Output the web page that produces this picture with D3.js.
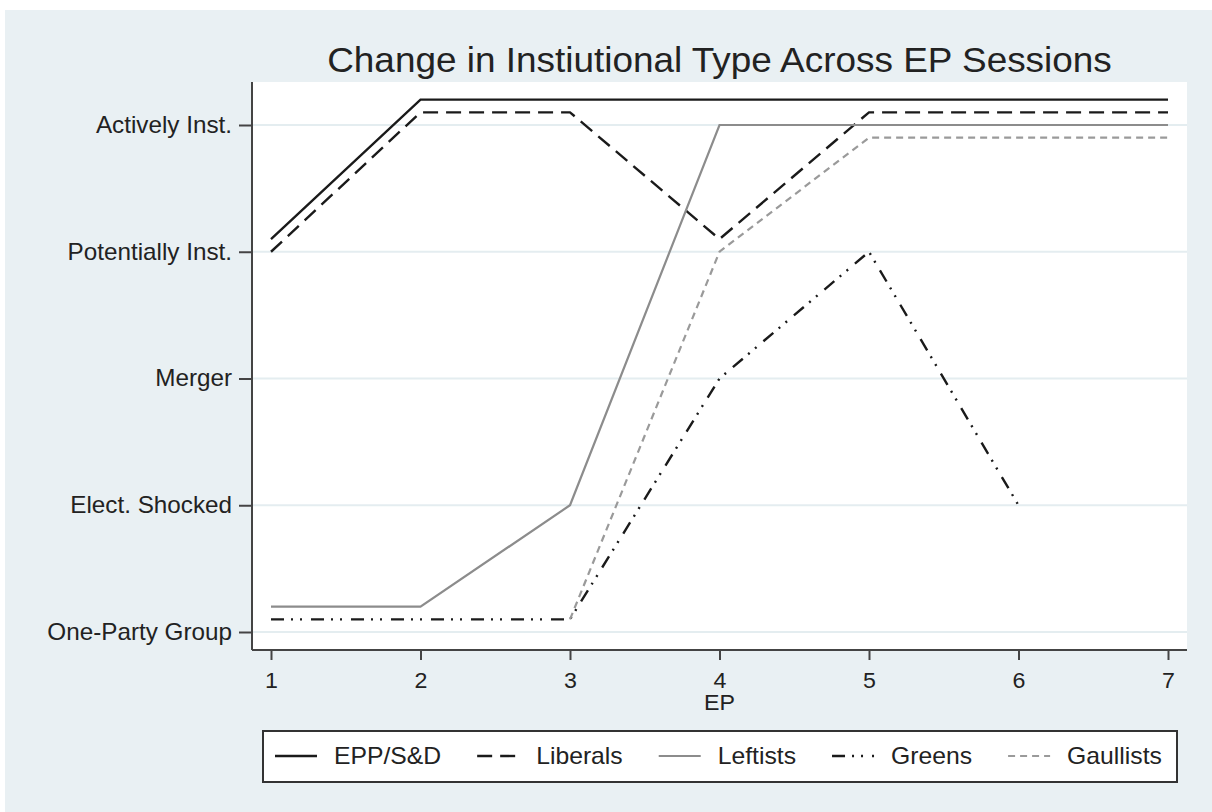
<!DOCTYPE html>
<html>
<head>
<meta charset="utf-8">
<script src="https://cdn.jsdelivr.net/npm/d3@7"></script>
<style>
body { margin: 0; background: #fff; }
text { font-family: "Liberation Sans", Arial, sans-serif; fill: #222; }
</style>
</head>
<body>
<div id="graph"></div>
<script>
// data (y: 1 = One-Party Group ... 5 = Actively Inst.)
const sessions = [1, 2, 3, 4, 5, 6, 7];
const typeLabels = ["One-Party Group", "Elect. Shocked", "Merger", "Potentially Inst.", "Actively Inst."];
const eppSD     = [4.1, 5.2, 5.2, 5.2, 5.2, 5.2, 5.2];
const liberals  = [4.0, 5.1, 5.1, 4.1, 5.1, 5.1, 5.1];
const leftists  = [1.2, 1.2, 2.0, 5.0, 5.0, 5.0, 5.0];
const greens    = [1.1, 1.1, 1.1, 3.0, 4.0, 2.0, null];
const gaullists = [null, null, 1.1, 4.0, 4.9, 4.9, 4.9];

const width = 1212, height = 812;
const plot = {left: 252, right: 1187, top: 82, bottom: 650};

const series = [
	{name: "EPP/S&D",  values: eppSD,     color: "#1a1a1a", dash: null,           w: 2.4},
	{name: "Liberals", values: liberals,  color: "#1a1a1a", dash: "15,8",         w: 2.4},
	{name: "Leftists", values: leftists,  color: "#8c8c8c", dash: null,           w: 2.2},
	{name: "Greens",   values: greens,    color: "#1a1a1a", dash: "13,7,2,7,2,9", w: 2.4},
	{name: "Gaullists",values: gaullists, color: "#9a9a9a", dash: "7,5",          w: 2.2}
];

// the picture is a bit wider than tall, so text gets stretched sideways
function stretch(sel, sx) {
	sel.each(function () {
		let x = +this.getAttribute("x") || 0;
		d3.select(this).attr("transform", `translate(${x},0) scale(${sx},1) translate(${-x},0)`);
	});
}

let svg = d3.select("div#graph")
	.append("svg")
	.attr("width", width)
	.attr("height", height);

// outer background
svg.append("rect")
	.attr("x", 5).attr("y", 10)
	.attr("width", width - 5).attr("height", height - 10)
	.attr("fill", "#e9f0f3");

svg.append("rect")
	.attr("x", plot.left).attr("y", plot.top)
	.attr("width", plot.right - plot.left).attr("height", plot.bottom - plot.top)
	.attr("fill", "#fff");

let xScale = d3.scaleLinear()
	.domain([1, 7])
	.range([plot.left + 19, plot.right - 19]);

let yScale = d3.scaleLinear()
	.domain([1, 5])
	.range([plot.bottom - 18, plot.top + 43]);

// grid
svg.append("g")
	.selectAll("line")
	.data(d3.range(1, 6))
	.enter()
	.append("line")
	.attr("x1", plot.left).attr("x2", plot.right)
	.attr("y1", d => yScale(d)).attr("y2", d => yScale(d))
	.attr("stroke", "#e4edf0")
	.attr("stroke-width", 2);

// title
svg.append("text")
	.attr("x", (plot.left + plot.right) / 2)
	.attr("y", 72)
	.attr("text-anchor", "middle")
	.style("font-size", "35px")
	.text("Change in Instiutional Type Across EP Sessions")
	.call(stretch, 1.055);

let yAxis = d3.axisLeft(yScale)
	.tickValues(d3.range(1, 6))
	.tickFormat(d => typeLabels[d - 1])
	.tickSize(13)
	.tickPadding(7);

let xAxis = d3.axisBottom(xScale)
	.tickValues(sessions)
	.tickFormat(d3.format("d"))
	.tickSize(10)
	.tickPadding(12);

let gy = svg.append("g")
	.attr("class", "y axis")
	.attr("transform", `translate(${plot.left}, 0)`)
	.call(yAxis);

let gx = svg.append("g")
	.attr("class", "x axis")
	.attr("transform", `translate(0, ${plot.bottom})`)
	.call(xAxis);

[gx, gy].forEach(g => {
	g.select(".domain").remove();
	g.selectAll(".tick line").attr("stroke", "#444").attr("stroke-width", 2);
	g.selectAll(".tick text").attr("fill", "#222").style("font-family", "Liberation Sans, Arial, sans-serif");
});
gy.selectAll(".tick text").style("font-size", "23px").call(stretch, 1.055);
gx.selectAll(".tick text").style("font-size", "22px").call(stretch, 1.055);

svg.append("line")
	.attr("x1", plot.left).attr("x2", plot.left)
	.attr("y1", plot.top).attr("y2", plot.bottom)
	.attr("stroke", "#444").attr("stroke-width", 2);
svg.append("line")
	.attr("x1", plot.left).attr("x2", plot.right)
	.attr("y1", plot.bottom).attr("y2", plot.bottom)
	.attr("stroke", "#444").attr("stroke-width", 2);

svg.append("text")
	.attr("x", (plot.left + plot.right) / 2)
	.attr("y", 710)
	.attr("text-anchor", "middle")
	.style("font-size", "22px")
	.text("EP")
	.call(stretch, 1.055);

// lines
let line = d3.line()
	.defined(d => d.v != null)
	.x(d => xScale(d.x))
	.y(d => yScale(d.v));

svg.append("g")
	.selectAll("path")
	.data(series)
	.enter()
	.append("path")
	.attr("d", s => line(sessions.map((x, i) => ({x: x, v: s.values[i]}))))
	.attr("fill", "none")
	.attr("stroke", s => s.color)
	.attr("stroke-width", s => s.w)
	.attr("stroke-dasharray", s => s.dash);

// legend
let legend = svg.append("g");
legend.append("rect")
	.attr("x", 263).attr("y", 731)
	.attr("width", 1177 - 263).attr("height", 51)
	.attr("fill", "#fff")
	.attr("stroke", "#333")
	.attr("stroke-width", 2);

let lx = 275;
series.forEach(s => {
	legend.append("line")
		.attr("x1", lx).attr("x2", lx + 42)
		.attr("y1", 756).attr("y2", 756)
		.attr("stroke", s.color)
		.attr("stroke-width", s.w)
		.attr("stroke-dasharray", s.dash);
	let t = legend.append("text")
		.attr("x", lx + 59)
		.attr("y", 764)
		.style("font-size", "24px")
		.text(s.name)
		.call(stretch, 1.03);
	lx += 59 + t.node().getComputedTextLength() * 1.03 + 36;
});
</script>
</body>
</html>
